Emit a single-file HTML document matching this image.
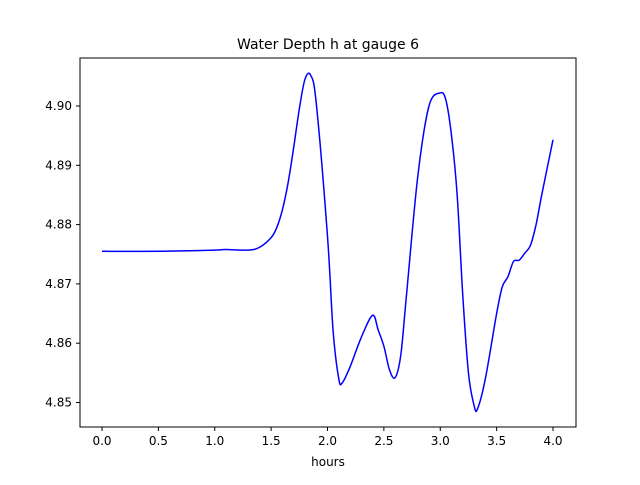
<!DOCTYPE html>
<html><head><meta charset="utf-8"><style>
body{margin:0;background:#fff}
svg{font-family:"DejaVu Sans","Liberation Sans",sans-serif}
</style></head><body>
<svg id="chart" width="640" height="480">
<rect width="640" height="480" fill="#fff"/>
<text x="328" y="49" text-anchor="middle" font-size="14">Water Depth h at gauge 6</text>
<g id="ticks"></g>
<path id="line" fill="none" stroke="#0000ff" stroke-width="1.5"/>
<rect x="80" y="58" width="496" height="369" fill="none" stroke="#000" stroke-width="1"/>
<text x="328" y="466" text-anchor="middle" font-size="12">hours</text>
</svg>
<script>
const hours=[0,0.5,1.0,1.1,1.3,1.4,1.5,1.55,1.6,1.65,1.7,1.75,1.8,1.85,1.9,2.0,2.05,2.1,2.13,2.2,2.3,2.4,2.45,2.5,2.55,2.6,2.65,2.7,2.8,2.9,3.0,3.05,3.1,3.15,3.2,3.25,3.3,3.33,3.4,3.5,3.55,3.6,3.65,3.7,3.75,3.8,3.85,3.9,4.0];
const depth=[4.8755,4.8755,4.8757,4.8758,4.8757,4.8762,4.8778,4.8795,4.8825,4.8870,4.8930,4.8995,4.9045,4.9052,4.9005,4.8780,4.8620,4.8540,4.8533,4.8560,4.8610,4.8647,4.8622,4.8595,4.8555,4.8542,4.8580,4.8680,4.8880,4.9000,4.9022,4.9010,4.8950,4.8850,4.8680,4.8550,4.8495,4.8489,4.8540,4.8650,4.8695,4.8712,4.8738,4.8740,4.8752,4.8765,4.8800,4.8850,4.8943];
const xTicks=[0,0.5,1.0,1.5,2.0,2.5,3.0,3.5,4.0];
const yTicks=[4.85,4.86,4.87,4.88,4.89,4.90];
const X=t=>102+t*112.75;
const Y=h=>106-(h-4.90)*5930;
const NS="http://www.w3.org/2000/svg";
const g=document.getElementById('ticks');
function mk(tag,a){const e=document.createElementNS(NS,tag);for(const k in a)e.setAttribute(k,a[k]);g.appendChild(e);return e;}
xTicks.forEach(t=>{
 const l=mk('line',{x1:X(t),x2:X(t),y1:427,y2:431,stroke:'#000'});
 
 
 const tx=mk('text',{x:X(t),y:445,'text-anchor':'middle','font-size':12});
 tx.textContent=t.toFixed(1);
 
 
});
yTicks.forEach(v=>{
 const l=mk('line',{x1:76,x2:80,y1:Y(v),y2:Y(v),stroke:'#000'});
 
 
 const tx=mk('text',{x:72,y:Y(v)+4,'text-anchor':'end','font-size':12});
 tx.textContent=v.toFixed(2);
 
 
});
const P=hours.map((t,i)=>[X(t),Y(depth[i])]);
let d=`M${P[0][0]},${P[0][1]}`;
for(let i=0;i<P.length-1;i++){
 const p0=P[Math.max(0,i-1)],p1=P[i],p2=P[i+1],p3=P[Math.min(P.length-1,i+2)];
 const c1=[p1[0]+(p2[0]-p0[0])/6,p1[1]+(p2[1]-p0[1])/6];
 const c2=[p2[0]-(p3[0]-p1[0])/6,p2[1]-(p3[1]-p1[1])/6];
 d+=` C${c1[0]},${c1[1]} ${c2[0]},${c2[1]} ${p2[0]},${p2[1]}`;
}
document.getElementById('line').setAttribute('d',d);
</script>
</body></html>
